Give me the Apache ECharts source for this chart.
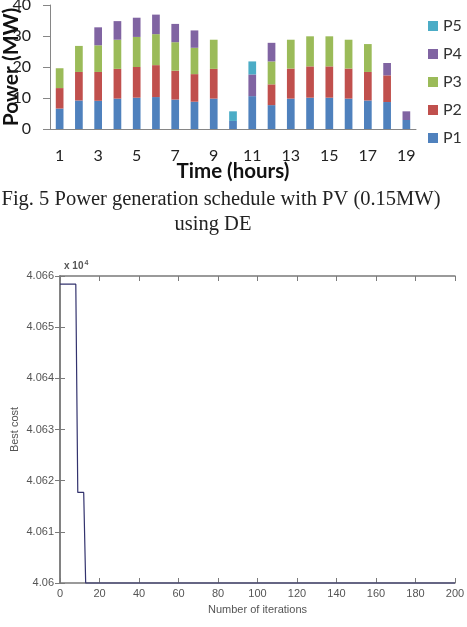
<!DOCTYPE html>
<html>
<head>
<meta charset="utf-8">
<script src="https://cdn.jsdelivr.net/npm/echarts@6/dist/echarts.min.js"></script>
<style>
html, body { margin: 0; padding: 0; background: #fff; }
#main { width: 467px; height: 627px; }
</style>
</head>
<body>
<div id="main"></div>
<script>
// top chart: stacked generation per hour (MW)
var hours = ['1','2','3','4','5','6','7','8','9','10','11','12','13','14','15','16','17','18','19'];
var p1 = [6.6, 9.2, 9.1, 9.8, 10.1, 10.3, 9.5, 8.8, 9.8, 2.6, 10.6, 7.7, 9.8, 10.1, 10.1, 9.8, 9.2, 8.7, 2.9];
var p2 = [6.6, 9.2, 9.3, 9.6, 9.9, 10.3, 9.3, 8.9, 9.6, 0, 0, 6.7, 9.7, 10.1, 10.1, 9.7, 9.2, 8.6, 0];
var p3 = [6.4, 8.4, 8.6, 9.4, 9.7, 10.0, 9.2, 8.5, 9.4, 0, 0, 7.4, 9.3, 9.7, 9.7, 9.3, 9.0, 0, 0];
var p4 = [0, 0, 5.8, 6.0, 6.2, 6.3, 5.9, 5.6, 0, 0, 7.0, 6.0, 0, 0, 0, 0, 0, 4.0, 2.8];
var p5 = [0, 0, 0, 0, 0, 0, 0, 0, 0, 3.1, 4.2, 0, 0, 0, 0, 0, 0, 0, 0];
var powerTicks = [0, 10, 20, 30, 40];

// bottom chart: convergence of DE, corners of the curve (iteration, best cost)
var iterPoints = [0, 8, 9, 12, 13, 200];
var bestCost = [40658.4, 40658.4, 40617.7, 40617.7, 40600.0, 40600.0];
var costTicks = [40600, 40610, 40620, 40630, 40640, 40650, 40660];
var iterTicks = [0, 20, 40, 60, 80, 100, 120, 140, 160, 180, 200];

var colors = ['#4F81BD', '#C0504D', '#9BBB59', '#8064A2', '#4BACC6'];
var xlFont = 'Lato, "Open Sans", sans-serif';
var mlFont = '"Liberation Sans", Arial, sans-serif';
var mlAxis = '#7a7a7a';

var myChart = echarts.init(document.getElementById('main'));

var curve = [];
for (var i = 0; i < iterPoints.length; i++) {
    curve.push([iterPoints[i], bestCost[i]]);
}

function barSeries(name, data, color) {
    return {
        name: name,
        type: 'bar',
        stack: 'gen',
        xAxisIndex: 0,
        yAxisIndex: 0,
        barWidth: '40%',
        itemStyle: { color: color },
        data: data
    };
}

var option = {
    animation: false,
    backgroundColor: '#fff',
    title: [
        {
            text: '{a|x 10}{b|4}',
            left: 59,
            top: 255,
            textStyle: {
                rich: {
                    a: { fontFamily: mlFont, fontSize: 10, color: '#555' },
                    b: { fontFamily: mlFont, fontSize: 7, color: '#555', verticalAlign: 'top', padding: [0, 0, 6, 1] }
                }
            }
        }
    ],
    graphic: [
        {
            type: 'text',
            x: 221,
            y: 200,
            style: {
                text: 'Fig. 5 Power generation schedule with PV (0.15MW)',
                font: '20.5px "Liberation Serif", serif',
                fill: '#222',
                textAlign: 'center',
                textVerticalAlign: 'middle'
            }
        },
        {
            type: 'text',
            x: 213,
            y: 225,
            style: {
                text: 'using DE',
                font: '20.5px "Liberation Serif", serif',
                fill: '#222',
                textAlign: 'center',
                textVerticalAlign: 'middle'
            }
        }
    ],
    legend: {
        data: ['P5', 'P4', 'P3', 'P2', 'P1'],
        orient: 'vertical',
        left: 423,
        top: 13,
        icon: 'rect',
        itemWidth: 10,
        itemHeight: 10,
        itemGap: 12,
        selectedMode: false,
        textStyle: { fontFamily: xlFont, fontSize: 16, color: '#333', lineHeight: 16 }
    },
    grid: [
        { left: 50, top: 5, width: 366, height: 124, containLabel: false, outerBoundsMode: 'none' },
        { left: 60, top: 276, width: 395, height: 307, containLabel: false, outerBoundsMode: 'none' }
    ],
    xAxis: [
        {
            gridIndex: 0,
            type: 'category',
            data: hours,
            name: 'Time (hours)',
            nameLocation: 'middle',
            nameGap: 32,
            nameMoveOverlap: false,
            nameTextStyle: { fontFamily: xlFont, fontSize: 20.5, fontWeight: 'bold', color: '#111' },
            axisLine: { lineStyle: { color: '#868686' } },
            axisTick: { length: 6, lineStyle: { color: '#868686' } },
            axisLabel: { interval: 1, margin: 19, fontFamily: xlFont, fontSize: 16, color: '#222' }
        },
        {
            gridIndex: 1,
            type: 'value',
            min: iterTicks[0],
            max: iterTicks[iterTicks.length - 1],
            interval: 20,
            name: 'Number of iterations',
            nameLocation: 'middle',
            nameGap: 21,
            nameMoveOverlap: false,
            nameTextStyle: { fontFamily: mlFont, fontSize: 11, color: '#555' },
            axisLine: { lineStyle: { color: mlAxis, width: 1.5 } },
            axisTick: { inside: true, length: 5, lineStyle: { color: mlAxis } },
            axisLabel: { margin: 5, fontFamily: mlFont, fontSize: 11, color: '#555' },
            splitLine: { show: false }
        },
        {
            gridIndex: 1,
            type: 'value',
            position: 'top',
            min: iterTicks[0],
            max: iterTicks[iterTicks.length - 1],
            interval: 20,
            axisLine: { lineStyle: { color: mlAxis, width: 1.5 } },
            axisTick: { inside: true, length: 5, lineStyle: { color: mlAxis } },
            axisLabel: { show: false },
            splitLine: { show: false }
        }
    ],
    yAxis: [
        {
            gridIndex: 0,
            type: 'value',
            min: powerTicks[0],
            max: powerTicks[powerTicks.length - 1],
            interval: 10,
            name: 'Power (MW)',
            nameLocation: 'middle',
            nameGap: 28,
            nameMoveOverlap: false,
            nameTextStyle: { fontFamily: xlFont, fontSize: 21, fontWeight: 'bold', color: '#111' },
            axisLine: { show: true, lineStyle: { color: '#868686' } },
            axisTick: { show: true, length: 7, lineStyle: { color: '#868686' } },
            axisLabel: { margin: 19, fontFamily: xlFont, fontSize: 16, color: '#222' },
            splitLine: { show: false }
        },
        {
            gridIndex: 1,
            type: 'value',
            min: costTicks[0],
            max: costTicks[costTicks.length - 1],
            interval: 10,
            name: 'Best cost',
            nameLocation: 'middle',
            nameGap: 40,
            nameMoveOverlap: false,
            nameTextStyle: { fontFamily: mlFont, fontSize: 11, color: '#555' },
            axisLine: { show: true, lineStyle: { color: mlAxis, width: 1.5 } },
            axisTick: { show: true, inside: true, length: 5, lineStyle: { color: mlAxis } },
            axisLabel: {
                margin: 6,
                fontFamily: mlFont,
                fontSize: 11,
                color: '#555',
                formatter: function (v) { return String(+(v / 1e4).toFixed(4)); }
            },
            splitLine: { show: false }
        },
        {
            gridIndex: 1,
            type: 'value',
            position: 'right',
            min: costTicks[0],
            max: costTicks[costTicks.length - 1],
            interval: 10,
            axisLine: { show: true, lineStyle: { color: mlAxis, width: 1.5 } },
            axisTick: { show: true, inside: true, length: 5, lineStyle: { color: mlAxis } },
            axisLabel: { show: false },
            splitLine: { show: false }
        }
    ],
    series: [
        barSeries('P1', p1, colors[0]),
        barSeries('P2', p2, colors[1]),
        barSeries('P3', p3, colors[2]),
        barSeries('P4', p4, colors[3]),
        barSeries('P5', p5, colors[4]),
        {
            name: 'Best cost',
            type: 'line',
            xAxisIndex: 1,
            yAxisIndex: 1,
            showSymbol: false,
            clip: false,
            lineStyle: { color: '#33336e', width: 1.2 },
            data: curve
        }
    ]
};
myChart.setOption(option);
</script>
</body>
</html>
